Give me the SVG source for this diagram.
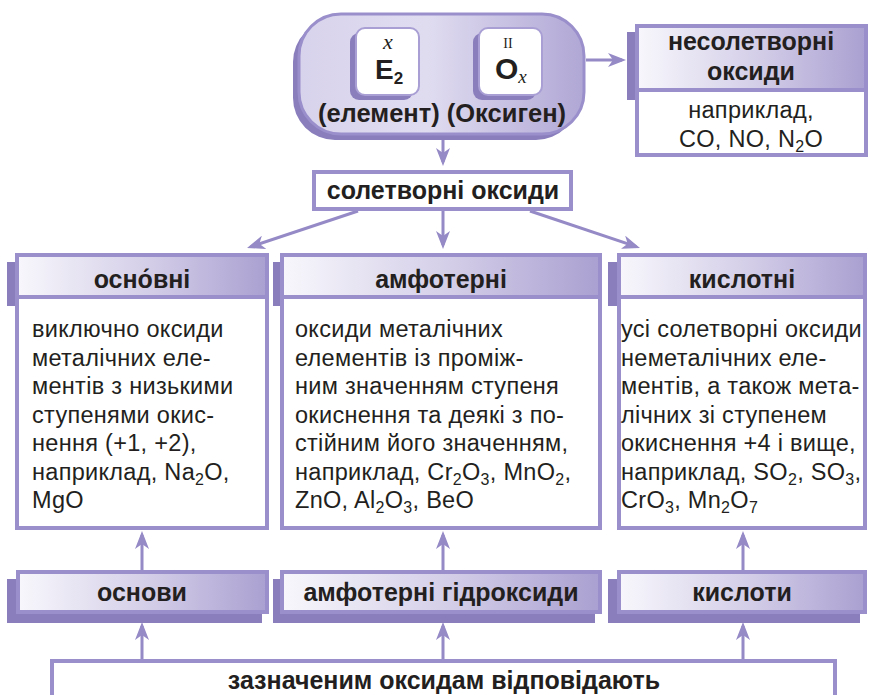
<svg xmlns="http://www.w3.org/2000/svg" width="869" height="695" viewBox="0 0 869 695">
<defs>
<linearGradient id="hg" x1="0" y1="0" x2="1" y2="0">
<stop offset="0" stop-color="#f8f7fc"/>
<stop offset="0.55" stop-color="#d2cce7"/>
<stop offset="1" stop-color="#aaa0d1"/>
</linearGradient>
<linearGradient id="cg" x1="0" y1="0" x2="1" y2="0">
<stop offset="0" stop-color="#d8d3ec"/>
<stop offset="0.45" stop-color="#e0dcf0"/>
<stop offset="1" stop-color="#b0a7d5"/>
</linearGradient>
<marker id="ah" viewBox="0 0 18 14" markerWidth="18" markerHeight="14" refX="14" refY="7" orient="auto" markerUnits="userSpaceOnUse">
<path d="M0,0 L18,7 L0,14 L5,7 Z" fill="#9589c6"/>
</marker>
</defs>
<style>
.t{font-family:"Liberation Sans",Arial,sans-serif;fill:#231f20}
.b{font-weight:bold;font-size:25px;text-anchor:middle}
.r{font-size:23.5px;letter-spacing:0.3px}
.sh{fill:#8a7ebd}
.hd{fill:url(#hg);stroke:#9a8fcb;stroke-width:4}
.bd{fill:#ffffff;stroke:#9a8fcb;stroke-width:4}
.cn{stroke:#9589c6;stroke-width:3;fill:none;marker-end:url(#ah)}
.ser{font-family:"Liberation Serif","Times New Roman",serif;fill:#231f20}
</style>

<g id="connectors">
<line class="cn" x1="586" y1="60" x2="622" y2="60"/>
<line class="cn" x1="443" y1="137" x2="443" y2="162"/>
<line class="cn" x1="358" y1="211" x2="250.8" y2="246.7"/>
<line class="cn" x1="443" y1="211" x2="443" y2="245"/>
<line class="cn" x1="530" y1="211" x2="636.2" y2="246.7"/>
<line class="cn" x1="142" y1="570" x2="142" y2="535"/>
<line class="cn" x1="443" y1="570" x2="443" y2="535"/>
<line class="cn" x1="743" y1="570" x2="743" y2="535"/>
<line class="cn" x1="142" y1="659" x2="142" y2="626"/>
<line class="cn" x1="443" y1="659" x2="443" y2="626"/>
<line class="cn" x1="743" y1="659" x2="743" y2="626"/>
</g>

<g id="formula">
<rect x="293" y="20" width="285" height="120" rx="42" class="sh"/>
<rect x="299" y="14" width="285" height="120" rx="42" fill="url(#cg)" stroke="#9a8fcb" stroke-width="3"/>
<rect x="350" y="33" width="63" height="67" rx="9" class="sh"/>
<rect x="356" y="28" width="63" height="67" rx="9" fill="#ffffff" stroke="#a99fd4" stroke-width="2"/>
<rect x="473" y="33" width="63" height="67" rx="9" class="sh"/>
<rect x="479" y="28" width="63" height="67" rx="9" fill="#ffffff" stroke="#a99fd4" stroke-width="2"/>
<text class="ser" x="388" y="49" font-size="22" font-style="italic" text-anchor="middle">x</text>
<text class="t" x="375" y="79" font-size="28" font-weight="bold">E<tspan font-size="17" dy="5">2</tspan></text>
<text class="ser" x="508" y="48" font-size="14" text-anchor="middle">II</text>
<text class="t" x="495" y="79" font-size="30" font-weight="bold">O<tspan class="ser" font-size="19" font-style="italic" font-weight="normal" dy="4">x</tspan></text>
<text class="t" x="442" y="122" font-size="25.5" font-weight="bold" text-anchor="middle">(елемент) (Оксиген)</text>
</g>

<g id="nesolet">
<rect x="627" y="32" width="229" height="68" class="sh"/>
<rect x="637" y="26" width="229" height="64" class="hd"/>
<rect x="637" y="90" width="229" height="65" class="bd"/>
<text class="t b" x="751" y="50">несолетворні</text>
<text class="t b" x="751" y="80">оксиди</text>
<text class="t r" x="751" y="118" text-anchor="middle">наприклад,</text>
<text class="t r" x="751" y="147" text-anchor="middle">CO, NO, N<tspan font-size="16" dy="5">2</tspan><tspan dy="-5">O</tspan></text>
</g>

<g id="soletvorni">
<rect x="314" y="172" width="257" height="37" class="bd"/>
<text class="t b" x="443" y="199">солетворні оксиди</text>
</g>

<g id="osnovni">
<rect x="7" y="262" width="250" height="44" class="sh"/>
<rect x="17" y="255" width="250" height="42" class="hd"/>
<rect x="17" y="297" width="250" height="231" class="bd"/>
<text class="t b" x="142" y="288">осно́вні</text>
<text class="t r">
<tspan x="32" y="337">виключно оксиди</tspan>
<tspan x="32" y="365.5">металічних еле-</tspan>
<tspan x="32" y="394">ментів з низькими</tspan>
<tspan x="32" y="422.5">ступенями окис-</tspan>
<tspan x="32" y="451">нення (+1, +2),</tspan>
<tspan x="32" y="479.5">наприклад, Na</tspan><tspan font-size="16" dy="5">2</tspan><tspan dy="-5">O,</tspan>
<tspan x="32" y="508">MgO</tspan>
</text>
</g>

<g id="amfoterni">
<rect x="273" y="262" width="318" height="44" class="sh"/>
<rect x="282" y="255" width="318" height="42" class="hd"/>
<rect x="282" y="297" width="318" height="231" class="bd"/>
<text class="t b" x="441" y="288">амфотерні</text>
<text class="t r">
<tspan x="295" y="337">оксиди металічних</tspan>
<tspan x="295" y="365.5">елементів із проміж-</tspan>
<tspan x="295" y="394">ним значенням ступеня</tspan>
<tspan x="295" y="422.5">окиснення та деякі з по-</tspan>
<tspan x="295" y="451">стійним його значенням,</tspan>
<tspan x="295" y="479.5">наприклад, Cr</tspan><tspan font-size="16" dy="5">2</tspan><tspan dy="-5">O</tspan><tspan font-size="16" dy="5">3</tspan><tspan dy="-5">, MnO</tspan><tspan font-size="16" dy="5">2</tspan><tspan dy="-5">,</tspan>
<tspan x="295" y="508">ZnO, Al</tspan><tspan font-size="16" dy="5">2</tspan><tspan dy="-5">O</tspan><tspan font-size="16" dy="5">3</tspan><tspan dy="-5">, BeO</tspan>
</text>
</g>

<g id="kyslotni">
<rect x="608" y="262" width="246" height="44" class="sh"/>
<rect x="619" y="255" width="246" height="42" class="hd"/>
<rect x="619" y="297" width="246" height="231" class="bd"/>
<text class="t b" x="742" y="288">кислотні</text>
<text class="t r">
<tspan x="621" y="337">усі солетворні оксиди</tspan>
<tspan x="621" y="365.5">неметалічних еле-</tspan>
<tspan x="621" y="394">ментів, а також мета-</tspan>
<tspan x="621" y="422.5">лічних зі ступенем</tspan>
<tspan x="621" y="451">окиснення +4 і вище,</tspan>
<tspan x="621" y="479.5">наприклад, SO</tspan><tspan font-size="16" dy="5">2</tspan><tspan dy="-5">, SO</tspan><tspan font-size="16" dy="5">3</tspan><tspan dy="-5">,</tspan>
<tspan x="621" y="508">CrO</tspan><tspan font-size="16" dy="5">3</tspan><tspan dy="-5">, Mn</tspan><tspan font-size="16" dy="5">2</tspan><tspan dy="-5">O</tspan><tspan font-size="16" dy="5">7</tspan>
</text>
</g>

<g id="osnovy">
<rect x="7" y="579" width="255" height="44" class="sh"/>
<rect x="18" y="572" width="249" height="40" class="hd"/>
<text class="t b" x="142" y="601">основи</text>
</g>

<g id="amf-gidroksydy">
<rect x="273" y="579" width="322" height="44" class="sh"/>
<rect x="282" y="572" width="318" height="40" class="hd"/>
<text class="t b" x="441" y="601">амфотерні гідроксиди</text>
</g>

<g id="kysloty">
<rect x="608" y="579" width="252" height="44" class="sh"/>
<rect x="619" y="572" width="246" height="40" class="hd"/>
<text class="t b" x="742" y="601">кислоти</text>
</g>

<g id="vidpovidayut">
<rect x="52" y="661" width="783" height="60" class="bd"/>
<text class="t b" x="444" y="689">зазначеним оксидам відповідають</text>
</g>
</svg>
